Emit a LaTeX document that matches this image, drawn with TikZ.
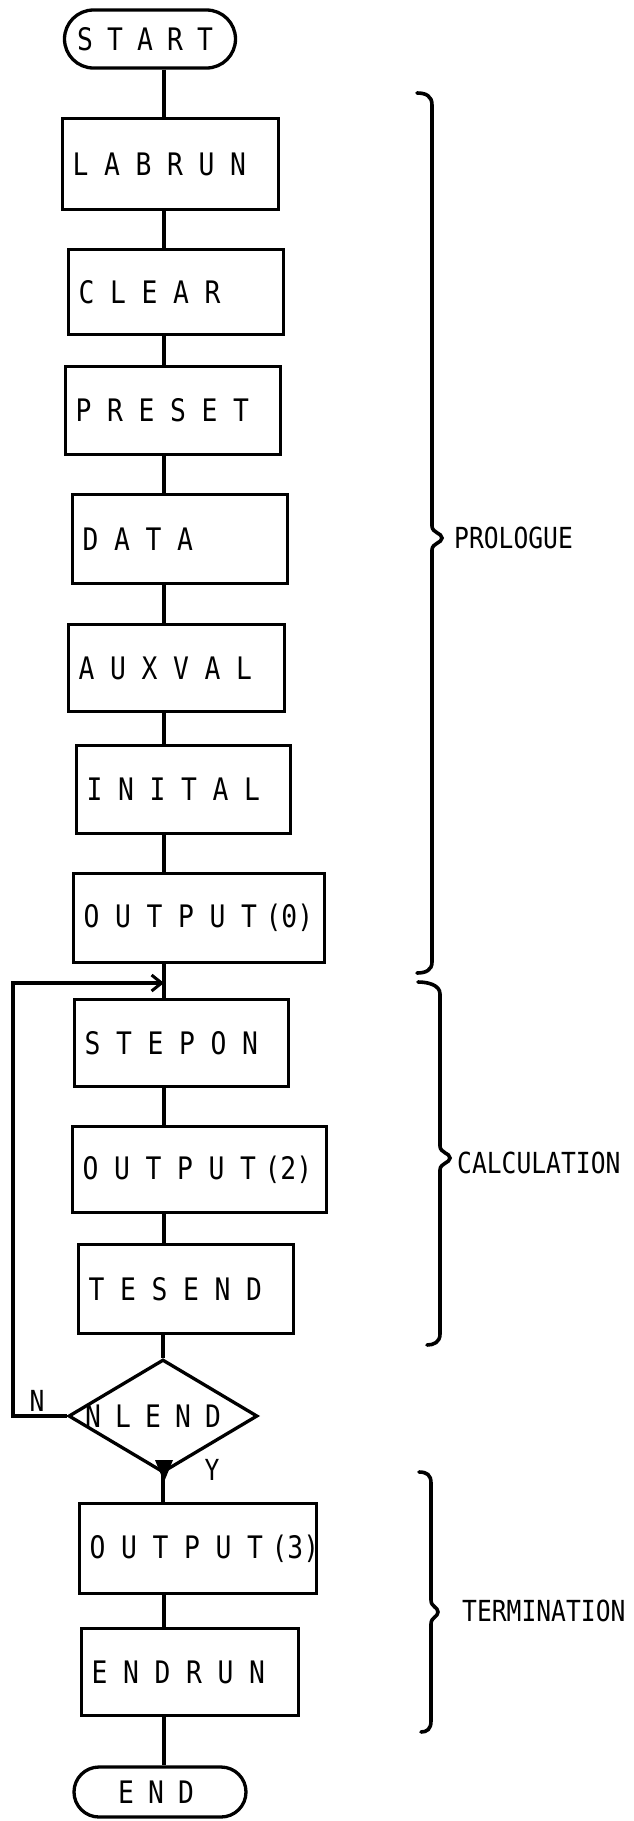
\documentclass[tikz,border=0pt]{standalone}
\usepackage{fontspec}
\newfontfamily\flowfont[FakeStretch=0.85]{DejaVu Sans Mono}
\usetikzlibrary{shapes.geometric,shapes.misc,arrows.meta}
\newcommand\boxfontcmd{\fontsize{31}{37}\selectfont\flowfont}
\makeatletter
\newcommand\spreadtxt[2][31.5pt]{\mbox{\@tfor\spr@x:=#2\do{\makebox[#1][l]{\spr@x}}}}
\makeatother
\begin{document}
\begin{tikzpicture}[x=1pt,y=-1pt,
  proc/.style={draw, line width=3.3pt, anchor=north west, inner xsep=10pt, inner ysep=0pt, align=left, font=\boxfontcmd},
  term/.style={draw, line width=3.3pt, rounded rectangle, inner sep=0pt, font=\boxfontcmd},
  dec/.style={draw, line width=3.3pt, diamond, aspect=1.67, inner sep=0pt, font=\boxfontcmd},
  conn/.style={line width=3.3pt},
  bracestyle/.style={line width=3.6pt, line cap=round},
  lab/.style={anchor=west, inner sep=0pt, font=\fontsize{29}{34}\selectfont\flowfont},
  yn/.style={inner sep=0pt, font=\fontsize{29}{34}\selectfont\flowfont}]
\useasboundingbox (0,0) rectangle (634,1821);
\fill[white] (0,0) rectangle (634,1821);

\coordinate (axis) at (164,0);

\node[term, minimum width=171pt, minimum height=58pt] (start) at (150,39) {\mbox{\hspace*{-5pt}\spreadtxt[30pt]{STAR}T\hspace*{5pt}}};
\node[proc, minimum height=91pt, text width=196pt] (labrun) at (61,117) {\spreadtxt{LABRUN}};
\node[proc, minimum height=85pt, text width=195pt] (clear) at (67,248) {\spreadtxt{CLEAR}};
\node[proc, minimum height=88pt, text width=195pt] (preset) at (64,365) {\spreadtxt{PRESET}};
\node[proc, minimum height=89pt, text width=195pt] (data) at (71,493) {\spreadtxt{DATA}};
\node[proc, minimum height=87pt, text width=196pt] (auxval) at (67,623) {\spreadtxt{AUXVAL}};
\node[proc, minimum height=88pt, text width=194pt] (inital) at (75,744) {\spreadtxt{INITAL}};
\node[proc, minimum height=89pt, text width=231pt] (out0) at (72,872) {\mbox{\spreadtxt{OUTPUT}\hspace{-7pt}(0)}};
\node[proc, minimum height=87pt, text width=194pt] (stepon) at (73,998) {\spreadtxt{STEPON}};
\node[proc, minimum height=86pt, text width=234pt] (out2) at (71,1125) {\mbox{\spreadtxt{OUTPUT}\hspace{-7pt}(2)}};
\node[proc, minimum height=89pt, text width=195pt] (tesend) at (77,1243) {\spreadtxt{TESEND}};
\node[dec, minimum width=189pt, minimum height=113pt] (nlend) at (163,1416) {\mbox{\hspace*{-10pt}\spreadtxt[30pt]{NLEN}D\hspace*{10pt}}};
\node[proc, minimum height=90pt, text width=217pt] (out3) at (78,1502) {\mbox{\spreadtxt{OUTPUT}\hspace{-7pt}(3)}};
\node[proc, minimum height=87pt, text width=197pt] (endrun) at (80,1627) {\spreadtxt{ENDRUN}};
\node[term, minimum width=172pt, minimum height=50pt] (end) at (160,1792) {\mbox{\hspace*{-4pt}\spreadtxt[30pt]{EN}D\hspace*{4pt}}};

% main connectors
\draw[conn] (start.south -| axis) -- (labrun.north -| axis);
\draw[conn] (labrun.south -| axis) -- (clear.north -| axis);
\draw[conn] (clear.south -| axis) -- (preset.north -| axis);
\draw[conn] (preset.south -| axis) -- (data.north -| axis);
\draw[conn] (data.south -| axis) -- (auxval.north -| axis);
\draw[conn] (auxval.south -| axis) -- (inital.north -| axis);
\draw[conn] (inital.south -| axis) -- (out0.north -| axis);
\draw[conn] (out0.south -| axis) -- (stepon.north -| axis);
\draw[conn] (stepon.south -| axis) -- (out2.north -| axis);
\draw[conn] (out2.south -| axis) -- (tesend.north -| axis);
\draw[conn] (tesend.south -| nlend.north) -- (nlend.north);
\draw[conn] (nlend.south) -- (out3.north -| nlend.south);
\draw[conn] (out3.south -| axis) -- (endrun.north -| axis);
\draw[conn] (endrun.south -| axis) -- (end.north -| axis);

% loop back
\coordinate (loopcorner) at (13,983);
\coordinate (merge) at (164,983);
\draw[conn, -{Straight Barb[length=10pt,width=16pt,line width=3pt]}] (nlend.west) -| (loopcorner) -- (merge);
\fill (155,1460) -- (173,1460) -- (164,1482) -- cycle;
\node[yn] (ln) at (37,1401) {N};
\node[yn] (ly) at (212,1470) {Y};

% braces
\draw[bracestyle] (417,93) .. controls (426,93) and (432,96) .. (432,105) -- (432,526) .. controls (432,533) and (442,533) .. (442,538) .. controls (442,543) and (432,543) .. (432,550) -- (432,962) .. controls (432,970) and (426,973) .. (417,973);
\node[lab] (lprol) at (454,538) {PROLOGUE};

\draw[bracestyle] (418,982) .. controls (428,982) and (440,985) .. (440,994) -- (440,1146) .. controls (440,1153) and (450,1153) .. (450,1158) .. controls (450,1163) and (440,1163) .. (440,1170) -- (440,1334) .. controls (440,1342) and (434,1345) .. (427,1345);
\node[lab] (lcalc) at (457,1163) {CALCULATION};

\draw[bracestyle] (419,1472) .. controls (427,1472) and (431,1475) .. (431,1483) -- (431,1600) .. controls (431,1607) and (438,1607) .. (438,1612) .. controls (438,1617) and (431,1617) .. (431,1624) -- (431,1721) .. controls (431,1729) and (427,1732) .. (421,1732);
\node[lab] (lterm) at (462,1611) {TERMINATION};
\end{tikzpicture}
\end{document}
